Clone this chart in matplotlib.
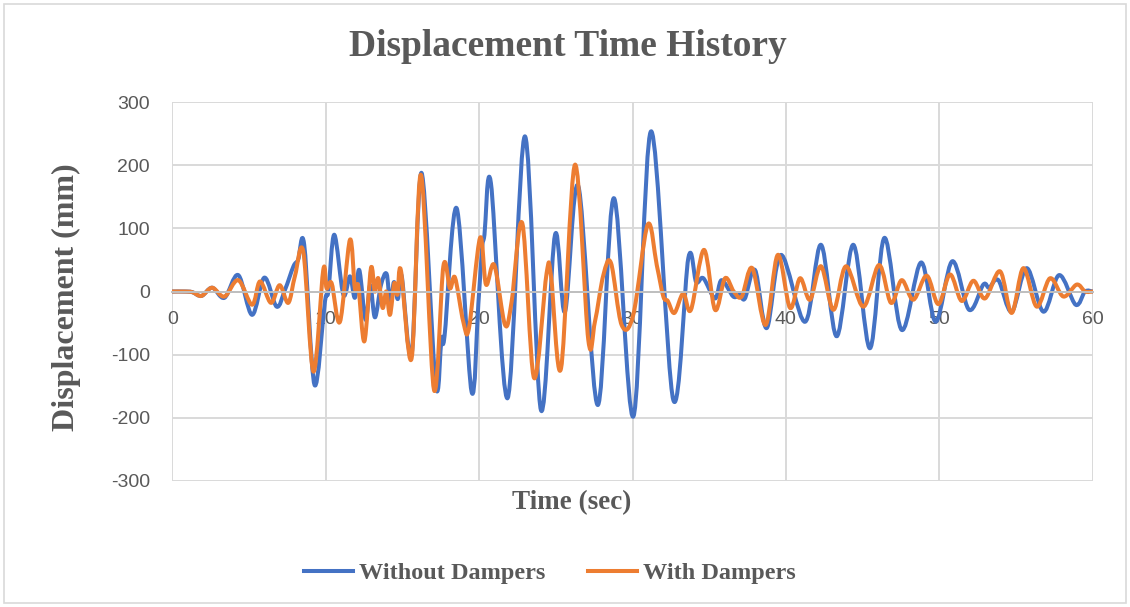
import matplotlib
matplotlib.use("Agg")
import matplotlib.pyplot as plt
from matplotlib.path import Path
from matplotlib.patches import PathPatch, Rectangle
from matplotlib.lines import Line2D

plt.rcParams['axes.unicode_minus'] = False

# ---------------- data ----------------
title = "Displacement Time History"
x_label = "Time (sec)"
y_label = "Displacement (mm)"
series_names = ["Without Dampers", "With Dampers"]

x_ticks = [0, 10, 20, 30, 40, 50, 60]
x_tick_labels = ["0", "10", "20", "30", "40", "50", "60"]
y_ticks = [-300, -200, -100, 0, 100, 200, 300]
y_tick_labels = ["-300", "-200", "-100", "0", "100", "200", "300"]

t_without = [0.0, 0.8, 1.3, 1.9, 2.6, 3.4, 4.3, 5.2, 6.0, 6.8, 7.35, 7.9, 8.2, 8.6,
             9.27, 9.95, 10.17, 10.56, 11.15, 11.58, 11.9, 12.19, 12.6, 12.9, 13.21,
             13.6, 13.97, 14.2, 14.45, 14.7, 14.95, 15.6, 16.25, 17.17, 17.55, 17.75,
             18.54, 19.51, 19.95, 20.2, 20.35, 20.77, 21.86, 22.99, 24.03, 24.95, 25.6,
             26.47, 27.73, 28.79, 30.06, 31.21, 32.66, 33.64, 34.15, 34.62, 35.38,
             35.81, 36.57, 37.0, 37.33, 37.99, 38.75, 39.68, 41.25, 42.29, 43.31, 44.4,
             45.48, 46.42, 47.55, 48.81, 49.77, 50.85, 51.94, 52.87, 53.25, 53.85,
             54.72, 55.7, 56.79, 57.81, 58.89, 59.5, 60.0]
d_without = [0, 0, -1, -7, 6, -10, 26, -37, 22, -24, 3, 40, 50, 74,
             -148, -16, 0, 90, -5, 24, -10, 34, -45, 10, -41,
             10, 28, -20, 15, -12, 25, -100, 188, -148, -74, -70,
             132, -159, -20, 70, 90, 172, -169, 246, -188, 90, -32,
             167, -180, 148, -198, 254, -172, 53, 15, 21, -11,
             18, -8, -5, -11, 34, -58, 58, -48, 74, -71, 74,
             -90, 85, -61, 46, -48, 48, -29, 11, 6, 18,
             -32, 37, -32, 26, -21, 0, 0]

t_with = [0.0, 0.8, 1.3, 1.9, 2.6, 3.4, 4.3, 5.2, 5.72, 6.43, 7.0, 7.56, 8.0, 8.54,
          9.2, 9.84, 10.06, 10.39, 10.93, 11.58, 11.9, 12.13, 12.52, 12.95, 13.2,
          13.43, 13.71, 13.95, 14.19, 14.47, 14.68, 14.9, 15.6, 16.21, 17.06, 17.67,
          18.1, 18.43, 18.97, 19.34, 20.06, 20.45, 20.99, 21.69, 22.12, 22.82, 23.58,
          24.4, 24.69, 25.34, 26.25, 27.12, 27.55, 28.1, 28.6, 29.29, 30.05, 30.99,
          31.58, 32.01, 32.3, 32.73, 33.31, 33.81, 34.66, 35.38, 36.03, 36.6, 37.12,
          37.81, 38.68, 39.47, 40.27, 40.92, 41.57, 42.29, 43.1, 43.92, 45.05, 46.07,
          46.85, 47.55, 48.31, 49.18, 49.94, 50.7, 51.46, 52.22, 52.98, 53.96, 54.72,
          55.48, 56.35, 57.22, 58.09, 58.96, 59.5, 60.0]
d_with = [0, 0, -1, -7, 6, -8, 18, -21, 16, -18, 10, -18, 25, 63,
          -127, 34, 5, 13, -48, 82, 5, 8, -79, 37, 0,
          21, -26, 0, -37, 13, -5, 34, -106, 185, -156, 40,
          5, 22, -48, -58, 85, 11, 42, -53, -16, 108, -137,
          29, 24, -122, 201, -77, -48, 26, 45, -53, -37, 106,
          42, -8, -15, -34, -3, -29, 66, -29, 21, 0, -8,
          37, -53, 58, -26, 21, -13, 40, -29, 40, -24, 42,
          -18, 18, -13, 25, -20, 27, -15, 17, -11, 32, -34,
          37, -24, 21, -8, 11, 0, 0]

# ---------------- styling ----------------
BLUE = "#4472C4"
ORANGE = "#ED7D31"
GRID = "#D9D9D9"
TEXT = "#595959"
SERIF = ["Liberation Serif", "DejaVu Serif"]
SANS = ["Liberation Sans", "DejaVu Sans"]


def smooth_path(xs, ys):
    """Excel-style smoothed line: cubic Bezier segments through the points."""
    pts = list(zip(xs, ys))
    n = len(pts)
    verts = [pts[0]]
    codes = [Path.MOVETO]
    for i in range(n - 1):
        p0 = pts[i - 1] if i > 0 else pts[i]
        p1 = pts[i]
        p2 = pts[i + 1]
        p3 = pts[i + 2] if i + 2 < n else pts[i + 1]
        c1 = (p1[0] + (p2[0] - p0[0]) / 6.0, p1[1] + (p2[1] - p0[1]) / 6.0)
        c2 = (p2[0] - (p3[0] - p1[0]) / 6.0, p2[1] - (p3[1] - p1[1]) / 6.0)
        verts += [c1, c2, p2]
        codes += [Path.CURVE4, Path.CURVE4, Path.CURVE4]
    return Path(verts, codes)


fig = plt.figure(figsize=(11.3, 6.07), dpi=100)
fig.patches.append(Rectangle((4 / 1130, 4 / 607), 1122 / 1130, 599 / 607,
                             transform=fig.transFigure, fill=False,
                             edgecolor=GRID, linewidth=1.2))

ax = fig.add_axes([172.3 / 1130, 1 - 480.7 / 607, 920.4 / 1130, 378.4 / 607])
ax.set_xlim(0, 60)
ax.set_ylim(-300, 300)
ax.set_xticks(x_ticks)
ax.set_xticklabels(x_tick_labels)
ax.set_yticks(y_ticks)
ax.set_yticklabels(y_tick_labels)
ax.grid(True, color=GRID, linewidth=1.4)
ax.set_axisbelow(True)
for s in ["top", "right", "left"]:
    ax.spines[s].set_visible(False)
ax.spines["bottom"].set_position(("data", 0))
ax.spines["bottom"].set_color("#BFBFBF")
ax.spines["bottom"].set_linewidth(1.4)
ax.tick_params(axis="both", length=0, labelcolor=TEXT, labelsize=14)
ax.tick_params(axis="x", pad=14)
ax.tick_params(axis="y", pad=16)
for lab in ax.get_xticklabels() + ax.get_yticklabels():
    lab.set_fontfamily(SANS)

for xs, ys, col in [(t_without, d_without, BLUE), (t_with, d_with, ORANGE)]:
    ax.add_patch(PathPatch(smooth_path(xs, ys), fill=False, edgecolor=col,
                           linewidth=2.9, capstyle="round", joinstyle="round",
                           transform=ax.transData, clip_on=True))

fig.text(568 / 1130, 1 - 47 / 607, title, ha="center", va="center",
         fontsize=27, fontweight="bold", color=TEXT, family=SERIF)
fig.text(66 / 1130, 1 - 297 / 607, y_label, ha="center", va="center",
         rotation=90, fontsize=23, fontweight="bold", color=TEXT, family=SERIF)
fig.text(572 / 1130, 1 - 503 / 607, x_label, ha="center", va="center",
         fontsize=19.5, fontweight="bold", color=TEXT, family=SERIF)

handles = [Line2D([], [], color=BLUE, linewidth=2.9),
           Line2D([], [], color=ORANGE, linewidth=2.9)]
leg = fig.legend(handles, series_names, loc="center", bbox_to_anchor=(550 / 1130, 1 - 573 / 607),
                 ncol=2, frameon=False, handlelength=2.0, handletextpad=0.25,
                 columnspacing=1.75,
                 prop={"family": SERIF, "weight": "bold", "size": 17.5})
for txt in leg.get_texts():
    txt.set_color(TEXT)

fig.savefig("out.png", dpi=100, facecolor="white")
